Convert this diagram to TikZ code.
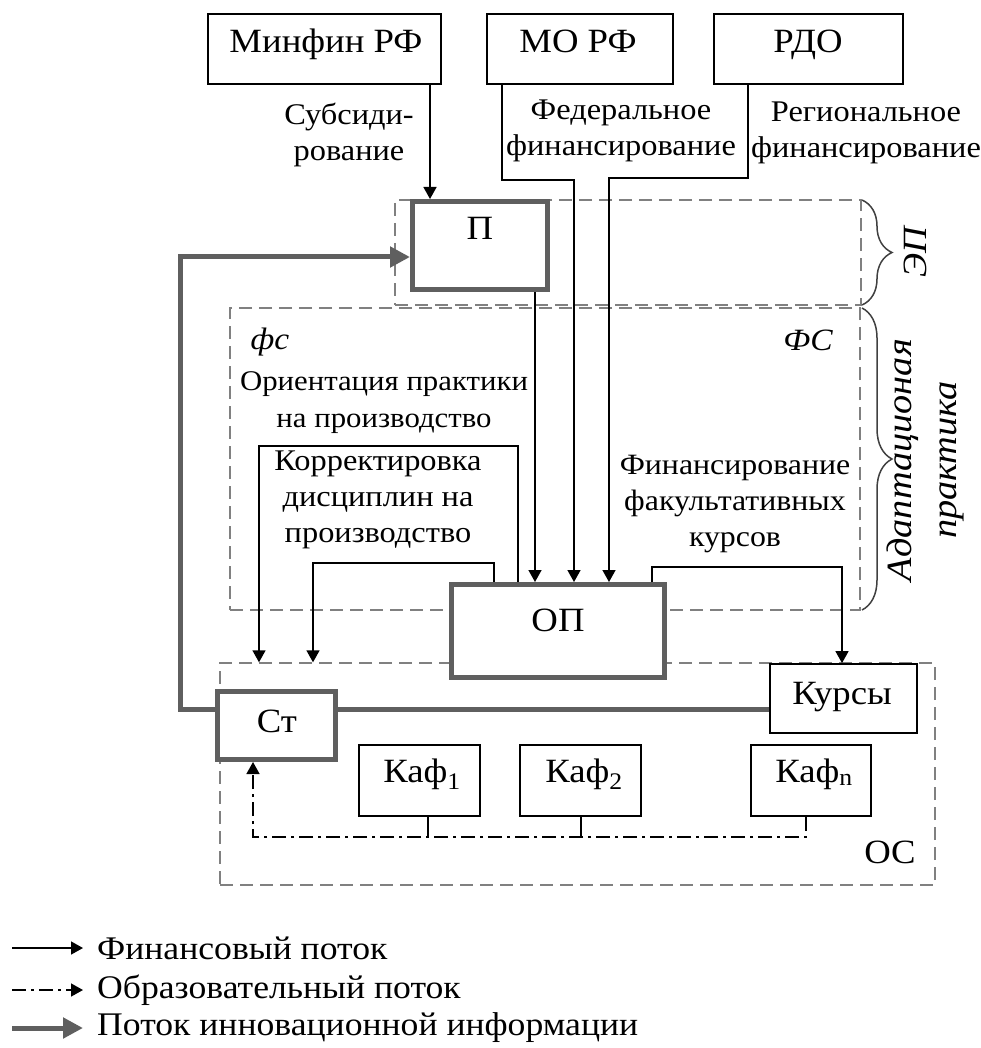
\documentclass[tikz,border=0pt]{standalone}
\usepackage{fontspec}
\setmainfont{Liberation Serif}[FakeStretch=1.08]
\usetikzlibrary{arrows.meta,decorations.pathreplacing,calc}
\definecolor{thickgray}{RGB}{95,95,95}
\definecolor{dashgray}{RGB}{128,128,128}
\newcommand{\boxfont}{\fontsize{34}{40}\selectfont}
\newcommand{\flowfont}{\fontsize{30}{36}\selectfont}
\begin{document}
\begin{tikzpicture}[x=1pt,y=-1pt,
  every node/.style={font=\flowfont, inner sep=0pt},
  thinbox/.style={draw=black, line width=1.8pt, fill=white, rectangle},
  thickbox/.style={draw=thickgray, line width=5pt, fill=white, rectangle},
  dashbox/.style={draw=dashgray, line width=1.4pt, dash pattern=on 13pt off 7pt, rectangle},
  boxtext/.style={font=\boxfont, anchor=base},
  fin/.style={draw=black, line width=1.5pt, -{Triangle[length=12pt,width=13pt]}},
  edu/.style={draw=black, line width=1.5pt, dash pattern=on 14pt off 5pt on 3pt off 5pt},
  stem/.style={draw=black, line width=1.5pt},
  info/.style={draw=thickgray, line width=5pt},
  infoarrow/.style={info, -{Triangle[length=20pt,width=20pt]}},
  brc/.style={draw=black!75, line width=1.5pt, decorate, decoration={brace, amplitude=30pt}},
  lbl/.style={align=center}
]
\useasboundingbox (0,0) rectangle (981,1048);

% dashed frames
\node[dashbox, minimum width=466pt, minimum height=105pt] (ep) at (628,252.5) {};
\node[dashbox, minimum width=630pt, minimum height=302pt] (fs) at (545,459) {};
\node[dashbox, minimum width=715pt, minimum height=222pt] (os) at (577.5,774) {};

% braces
\coordinate (b1t) at (862,200);
\coordinate (b1b) at (862,305);
\coordinate (b2t) at (862,308);
\coordinate (b2b) at (862,610);
\draw[brc] (b1t) -- (b1b);
\draw[brc] (b2t) -- (b2b);
\node[rotate=90, font=\fontsize{34}{40}\selectfont\itshape] (eplbl) at (915,252) {ЭП};
\node[rotate=90, align=center, font=\fontsize{35.5}{45}\selectfont\itshape] (adapt) at (925,460) {Адаптационая\\практика};

% boxes
\node[thinbox, minimum width=233pt, minimum height=70pt] (minfin) at (324.5,49) {};
\node[thinbox, minimum width=186pt, minimum height=70pt] (mo) at (580,49) {};
\node[thinbox, minimum width=189pt, minimum height=70pt] (rdo) at (808.5,49) {};
\node[thickbox, minimum width=135pt, minimum height=88pt] (pbox) at (480,245.5) {};
\node[thickbox, minimum width=213pt, minimum height=93pt] (op) at (558,631) {};
\node[thickbox, minimum width=118pt, minimum height=68pt] (st) at (276.5,725.5) {};
\node[thinbox, minimum width=147pt, minimum height=69pt] (kursy) at (843.5,698.5) {};
\node[thinbox, minimum width=121pt, minimum height=71pt] (kaf1) at (419.5,780.5) {};
\node[thinbox, minimum width=121pt, minimum height=71pt] (kaf2) at (580.5,780.5) {};
\node[thinbox, minimum width=120pt, minimum height=71pt] (kafn) at (811,780.5) {};

% box texts (baselines as in the reference)
\node[boxtext] (tminfin) at (326,53) {Минфин РФ};
\node[boxtext] (tmo) at (578,53) {МО РФ};
\node[boxtext] (trdo) at (808,53) {РДО};
\node[boxtext] (tp) at (480,240) {П};
\node[boxtext] (top) at (558,631) {ОП};
\node[boxtext] (tst) at (277,732) {Ст};
\node[boxtext] (tkursy) at (842,704) {Курсы};
\node[boxtext] (tkaf1) at (422,782) {Каф\textsubscript{1}};
\node[boxtext] (tkaf2) at (584,782) {Каф\textsubscript{2}};
\node[boxtext] (tkafn) at (814,782) {Каф\textsubscript{n}};
\node[boxtext] (tos) at (890,863) {ОС};

% flow labels
\node[lbl] (sub) at (349,135) {Субсиди-\\рование};
\node[lbl] (fed) at (621,131) {Федеральное\\финансирование};
\node[lbl] (reg) at (866,133) {Региональное\\финансирование};
\node[font=\fontsize{31}{36}\selectfont\itshape] (fsl) at (270,342) {фс};
\node[font=\fontsize{31}{36}\selectfont\itshape] (FSl) at (808,340) {ФС};
\node[lbl, font=\fontsize{28.5}{37}\selectfont] (orient) at (384,403) {Ориентация практики\\на производство};
\node[lbl] (korr) at (378,500) {Корректировка\\дисциплин на\\производство};
\node[lbl, font=\fontsize{29.5}{36}\selectfont] (fak) at (735,504) {Финансирование\\факультативных\\курсов};

% financial flows
\draw[fin] (minfin.south -| 430,0) -- (pbox.north -| 430,0);
\draw[fin] (mo.south -| 502,0) -- (502,180) -| (op.north -| 574,0);
\draw[fin] (rdo.south -| 748,0) -- (748,178) -| (op.north -| 609,0);
\draw[fin] (pbox.south -| 535,0) -- (op.north -| 535,0);
\draw[fin] (op.north -| 518,0) -- (518,446) -| (os.north -| 259,0);
\draw[fin] (op.north -| 494,0) -- (494,563) -| (os.north -| 313,0);
\draw[fin] (op.north -| 652,0) -- (652,567) -| (kursy.north -| 842,0);

% innovation information flow
\draw[info] (kursy.west |- 0,709) -- (st.east |- 0,709);
\draw[infoarrow] (st.west |- 0,709) -- (180,709) -- (180,257) -- (pbox.west |- 0,257);

% educational flow
\draw[stem] (kaf1.south -| 428,0) -- (428,837);
\draw[stem] (kaf2.south -| 581,0) -- (581,837);
\draw[edu, -{Triangle[length=12pt,width=13pt]}] (kafn.south -| 806,0) -- (806,837) -- (253,837) -- (st.south -| 253,0);

% legend
\coordinate (lg1) at (12,948);
\coordinate (lg2) at (12,990);
\coordinate (lg3) at (12,1028);
\node[anchor=west, font=\fontsize{33}{40}\selectfont] (lt1) at (97,948) {Финансовый поток};
\node[anchor=west, font=\fontsize{33}{40}\selectfont] (lt2) at (97,990) {Образовательный поток};
\node[anchor=west, font=\fontsize{33}{40}\selectfont] (lt3) at (97,1028) {Поток инновационной информации};
\draw[fin] (lg1) -- ([xshift=-14pt]lt1.west);
\draw[edu, -{Triangle[length=12pt,width=13pt]}] (lg2) -- ([xshift=-14pt]lt2.west);
\draw[infoarrow] (lg3) -- ([xshift=-14pt]lt3.west);
\end{tikzpicture}
\end{document}
